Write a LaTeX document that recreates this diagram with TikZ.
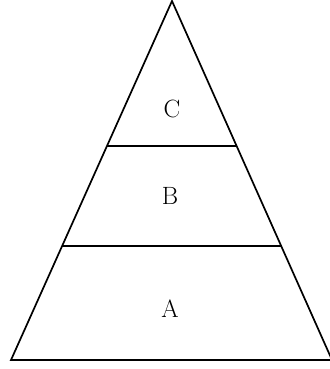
\documentclass[tikz,border=0pt]{standalone}
\usepackage{tikz}

\begin{document}
\begin{tikzpicture}[x=1pt, y=-1pt, line width=1.7pt,
  every node/.style={font=\fontsize{25}{30}\selectfont, inner sep=0pt}]
\useasboundingbox (0,0) rectangle (329,369);
% --- outer triangle ---
\coordinate (top) at (172,1);
\coordinate (bl)  at (11,360);
\coordinate (br)  at (332,360);
\draw (top) -- (br) -- (bl) -- cycle;
% --- layer borders ---
\coordinate (cl) at (107,146);
\coordinate (cr) at (237,146);
\coordinate (bbl) at (62,246);
\coordinate (bbr) at (281,246);
\draw (cl) -- (cr);
\draw (bbl) -- (bbr);
% --- layer labels ---
\node (lc) at (172,109) {C};
\node (lb) at (170,196) {B};
\node (la) at (170,309) {A};
\end{tikzpicture}
\end{document}
